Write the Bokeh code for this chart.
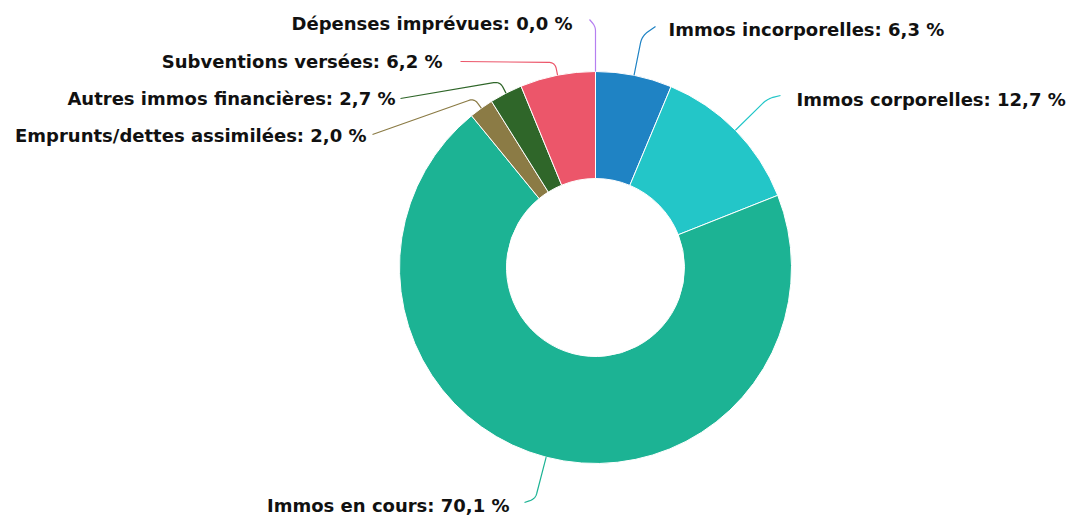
import numpy as np
from bokeh.plotting import figure
from bokeh.models import Range1d, ColumnDataSource
from bokeh.core.properties import value
from bokeh.embed import file_html
from bokeh.resources import INLINE

# ---- data ----
categories = ["Immos incorporelles", "Immos corporelles", "Immos en cours",
              "Emprunts/dettes assimilées", "Autres immos financières",
              "Subventions versées", "Dépenses imprévues"]
shares = [6.3, 12.7, 70.1, 2.0, 2.7, 6.2, 0.0]
colors = ["#1f83c4", "#23c6c8", "#1cb394", "#8b7b45", "#2f6629", "#ec566a", "#b57ff0"]

# ---- layout (screen pixel space of the page) ----
CX, CY = 595.0, 267.0
R_OUT, R_IN = 196.0, 89.0
label_x = [668, 796, 509, 366, 395, 442, 572]
label_y = [29, 99, 505, 135, 98, 61, 23]
label_align = ["left", "left", "right", "right", "right", "right", "right"]
conn_end = [(655, 26), (780, 95), (524, 502), (372, 134), (400, 98), (460, 61), (589, 19)]
conn_bend = [40, 45, 43, 12, 13, 13, 45]

W, H = 1068, 517
p = figure(width=W, height=H, output_backend="svg", toolbar_location=None,
           x_range=Range1d(0, W), y_range=Range1d(-H, 0),
           min_border=0, outline_line_color=None, background_fill_color="white",
           border_fill_color="white")
p.axis.visible = False
p.grid.visible = False

vals = np.array(shares, dtype=float)
frac = vals / vals.sum()
cum = np.concatenate([[0.0], np.cumsum(frac)])
start = np.pi / 2 - cum[:-1] * 2 * np.pi
end = np.pi / 2 - cum[1:] * 2 * np.pi
keep = vals > 0

src = ColumnDataSource(dict(x=[CX] * int(keep.sum()), y=[-CY] * int(keep.sum()),
                            start=start[keep], end=end[keep],
                            color=[c for c, k in zip(colors, keep) if k]))
p.annular_wedge(x="x", y="y", inner_radius=R_IN, outer_radius=R_OUT,
                start_angle="start", end_angle="end", direction="clock",
                fill_color="color", line_color="white", line_width=1, source=src)

# connectors
mid = (cum[:-1] + cum[1:]) / 2 * 2 * np.pi  # clockwise from top
for i in range(len(vals)):
    ux, uy = np.sin(mid[i]), -np.cos(mid[i])
    sx, sy = CX + R_OUT * ux, CY + R_OUT * uy
    bx, by = sx + conn_bend[i] * ux, sy + conn_bend[i] * uy
    ex, ey = conn_end[i]
    d1 = np.hypot(bx - sx, by - sy)
    d2 = np.hypot(ex - bx, ey - by)
    rr = min(7.0, d1 * 0.5, d2 * 0.5)
    ax_, ay_ = bx - (bx - sx) / d1 * rr, by - (by - sy) / d1 * rr
    cx_, cy_ = bx + (ex - bx) / d2 * rr, by + (ey - by) / d2 * rr
    t = np.linspace(0, 1, 12)
    qx = (1 - t) ** 2 * ax_ + 2 * (1 - t) * t * bx + t ** 2 * cx_
    qy = (1 - t) ** 2 * ay_ + 2 * (1 - t) * t * by + t ** 2 * cy_
    xs = [sx] + list(qx) + [ex]
    ys = [sy] + list(qy) + [ey]
    p.line(xs, [-v for v in ys], line_color=colors[i], line_width=1.2)

# labels
texts = [f"{c}: {s:.1f} %".replace(".", ",") for c, s in zip(categories, shares)]
lsrc = ColumnDataSource(dict(x=label_x, y=[-v for v in label_y], text=texts, align=label_align))
p.text(x="x", y="y", text="text", text_align="align", text_baseline="middle",
       text_font=value("DejaVu Sans"), text_font_style="bold", text_font_size="18px",
       text_color="#111111", source=lsrc)

open("out.html", "w").write(file_html(p, INLINE))
